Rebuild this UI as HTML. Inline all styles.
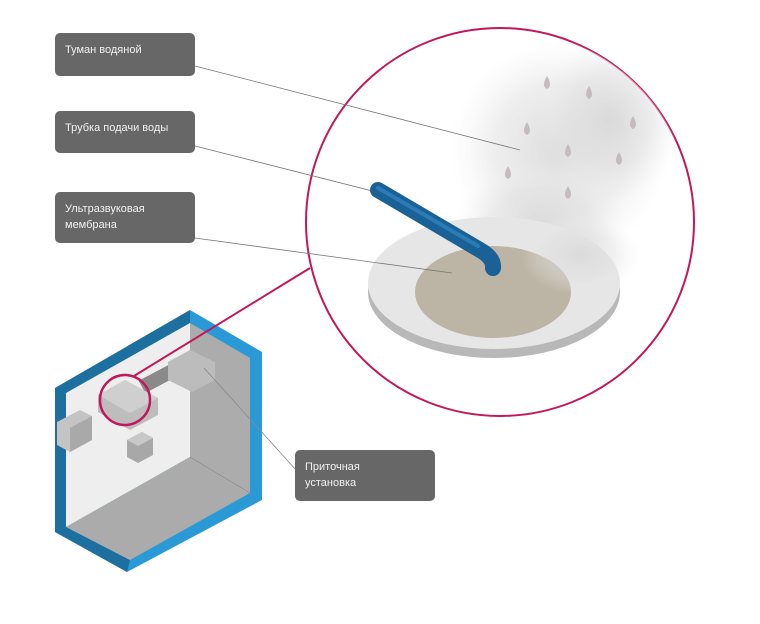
<!DOCTYPE html>
<html><head><meta charset="utf-8"><style>
html,body{margin:0;padding:0;background:#fff;}
body{width:760px;height:624px;position:relative;overflow:hidden;font-family:"Liberation Sans",sans-serif;}
.lb{position:absolute;background:#676767;color:#f2f2f2;border-radius:5px;font-size:11px;line-height:16px;padding:9px 10px;box-sizing:border-box;}
</style></head><body>
<svg width="760" height="624" style="position:absolute;left:0;top:0">
<defs>
<radialGradient id="mist" cx="50%" cy="50%" r="50%">
<stop offset="0" stop-color="#d6d6d6" stop-opacity="0.85"/>
<stop offset="0.6" stop-color="#e0e0e0" stop-opacity="0.55"/>
<stop offset="1" stop-color="#eee" stop-opacity="0"/>
</radialGradient>
<clipPath id="cc"><circle cx="500" cy="222" r="194"/></clipPath>
</defs>
<!-- room -->
<polygon points="55,388 190,310 262,352 262,500 127,572 55,532" fill="#2a9ad6"/>
<polygon points="55,388 190,310 190,323 66,393 66,527 130,560 127,572 55,532" fill="#1d6f9f"/>
<polygon points="66,393 190,323 190,457 66,527" fill="#eeeeee"/>
<polygon points="190,323 250,358 250,493 190,457" fill="#acacac"/>
<polygon points="66,527 190,457 250,493 130,560" fill="#ababab"/>
<line x1="190" y1="457" x2="250" y2="493" stroke="#888" stroke-width="0.6"/>
<!-- ducts -->
<polygon points="57,422 80,410 92,416 92,440 70,452 57,445" fill="#c4c4c4"/>
<polygon points="70,428 92,416 92,440 70,452" fill="#a9a9a9"/>
<rect x="140" y="372" width="35" height="14" fill="#8a8a8a" transform="rotate(-28 157 379)"/>
<polygon points="98,395 125,380 158,398 158,415 130,430 98,412" fill="#bdbdbd"/>
<polygon points="98,395 125,380 158,398 130,413" fill="#cfcfcf"/>
<polygon points="168,362 190,350 215,362 215,380 192,392 168,380" fill="#bcbcbc"/>
<polygon points="127,440 142,432 153,438 153,455 138,463 127,457" fill="#a8a8a8"/>
<polygon points="127,440 142,432 153,438 138,446" fill="#c8c8c8"/>
<!-- connectors -->
<line x1="204" y1="368" x2="296" y2="470" stroke="#888" stroke-width="0.8"/>
<line x1="310" y1="268" x2="134" y2="376" stroke="#c2185b" stroke-width="2"/>
<circle cx="125" cy="400" r="25" fill="none" stroke="#c2185b" stroke-width="2.5"/>
<!-- big circle -->
<circle cx="500" cy="222" r="194" fill="#fff" stroke="#c2185b" stroke-width="2"/>
<g clip-path="url(#cc)">
<ellipse cx="560" cy="150" rx="110" ry="110" fill="url(#mist)"/>
<ellipse cx="540" cy="225" rx="85" ry="60" fill="url(#mist)"/>
<ellipse cx="610" cy="120" rx="70" ry="80" fill="url(#mist)"/>
</g>
<line x1="195" y1="66" x2="520" y2="150" stroke="#777" stroke-width="0.8"/>
<line x1="195" y1="146" x2="400" y2="198" stroke="#777" stroke-width="0.8"/>
<!-- disc -->
<ellipse cx="494" cy="292" rx="126" ry="66" fill="#b8b8b8"/>
<ellipse cx="494" cy="283" rx="126" ry="66" fill="#e6e6e6"/>
<ellipse cx="493" cy="292" rx="78" ry="46" fill="#bcb4a4"/>
<ellipse cx="580" cy="255" rx="60" ry="40" fill="url(#mist)" opacity="0.8"/>
<line x1="195" y1="238" x2="452" y2="273" stroke="#777" stroke-width="0.8"/>
<!-- tube -->
<path d="M378,190 L480,250 Q494,258 493,268" fill="none" stroke="#1a6196" stroke-width="16" stroke-linecap="round"/>
<path d="M378,188 L478,246" fill="none" stroke="#2b7cb6" stroke-width="4" stroke-linecap="round"/>
<!-- drops -->
<g fill="#c4bcbc">
<path d="M547,76 q-6,10 0,13 q6,-3 0,-13z"/><path d="M589,86 q-6,10 0,13 q6,-3 0,-13z"/>
<path d="M633,116 q-6,10 0,13 q6,-3 0,-13z"/><path d="M527,122 q-6,10 0,13 q6,-3 0,-13z"/>
<path d="M568,144 q-6,10 0,13 q6,-3 0,-13z"/><path d="M619,152 q-6,10 0,13 q6,-3 0,-13z"/>
<path d="M508,166 q-6,10 0,13 q6,-3 0,-13z"/><path d="M568,186 q-6,10 0,13 q6,-3 0,-13z"/>
</g>
</svg>
<div class="lb" style="left:55px;top:33px;width:140px;height:43px;">Туман водяной</div>
<div class="lb" style="left:55px;top:111px;width:140px;height:42px;">Трубка подачи воды</div>
<div class="lb" style="left:55px;top:192px;width:140px;height:51px;">Ультразвуковая<br>мембрана</div>
<div class="lb" style="left:295px;top:450px;width:140px;height:51px;">Приточная<br>установка</div>
</body></html>
